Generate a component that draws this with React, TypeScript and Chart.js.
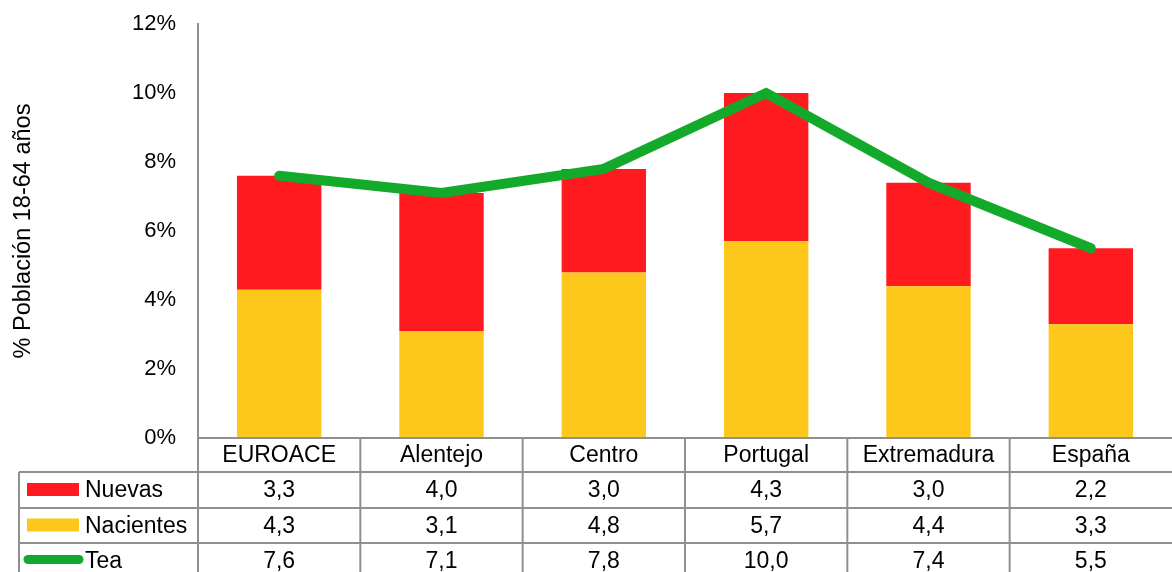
import React, { useEffect, useRef } from "react";
import { Chart, registerables } from "chart.js";

Chart.register(...registerables);

const categories = ["EUROACE", "Alentejo", "Centro", "Portugal", "Extremadura", "España"];
const nuevas = [3.3, 4.0, 3.0, 4.3, 3.0, 2.2];
const nacientes = [4.3, 3.1, 4.8, 5.7, 4.4, 3.3];
const tea = [7.6, 7.1, 7.8, 10.0, 7.4, 5.5];
const yTicks = [0, 2, 4, 6, 8, 10, 12];

const RED = "#FF1A1F";
const YELLOW = "#FDC81B";
const GREEN = "#13AA2B";
const GRIDC = "#8f8f8f";
const FONT = "'Liberation Sans', Arial, sans-serif";

const fmt = (v: number) => v.toFixed(1).replace(".", ",");

const tablePlugin = {
  id: "dataTable",
  afterDraw(chart: any) {
    const ctx = chart.ctx as CanvasRenderingContext2D;
    const x = chart.scales.x;
    const area = chart.chartArea;
    const left = area.left;
    const right = area.right;
    const n = categories.length;
    const step = (right - left) / n;
    const top = area.bottom;
    const rowH = [34, 36, 35, 35];
    const rowsY = [top];
    for (let i = 0; i < rowH.length; i++) rowsY.push(rowsY[i] + rowH[i]);
    const tableLeft = 19;
    const bottom = chart.height;

    ctx.save();
    ctx.strokeStyle = GRIDC;
    ctx.lineWidth = 2;
    ctx.beginPath();
    ctx.moveTo(left, rowsY[0]);
    ctx.lineTo(right, rowsY[0]);
    for (let r = 1; r <= 3; r++) {
      ctx.moveTo(tableLeft, rowsY[r]);
      ctx.lineTo(right, rowsY[r]);
    }
    for (let i = 0; i < n; i++) {
      const xx = left + i * step;
      ctx.moveTo(xx, rowsY[0]);
      ctx.lineTo(xx, bottom);
    }
    ctx.moveTo(tableLeft, rowsY[1]);
    ctx.lineTo(tableLeft, bottom);
    ctx.stroke();

    ctx.fillStyle = "#000";
    ctx.font = `23px ${FONT}`;
    ctx.textBaseline = "middle";
    ctx.textAlign = "center";
    const rows = [nuevas, nacientes, tea];
    for (let i = 0; i < n; i++) {
      const cx = x.getPixelForValue(i);
      ctx.fillText(categories[i], cx, (rowsY[0] + rowsY[1]) / 2 + 1);
      for (let r = 0; r < 3; r++) {
        ctx.fillText(fmt(rows[r][i]), cx, (rowsY[r + 1] + rowsY[r + 2]) / 2 + 1);
      }
    }
    const labels = ["Nuevas", "Nacientes", "Tea"];
    ctx.textAlign = "left";
    for (let r = 0; r < 3; r++) {
      const cy = (rowsY[r + 1] + rowsY[r + 2]) / 2;
      if (r < 2) {
        ctx.fillStyle = r === 0 ? RED : YELLOW;
        ctx.fillRect(27, cy - 7, 52, 13);
      } else {
        ctx.strokeStyle = GREEN;
        ctx.lineWidth = 9;
        ctx.lineCap = "round";
        ctx.beginPath();
        ctx.moveTo(28, cy - 1);
        ctx.lineTo(79, cy - 1);
        ctx.stroke();
      }
      ctx.fillStyle = "#000";
      ctx.fillText(labels[r], 85, cy + 1);
    }
    ctx.restore();
  },
};

export default function App() {
  const ref = useRef<HTMLCanvasElement | null>(null);
  useEffect(() => {
    if (!ref.current) return;
    const chart = new Chart(ref.current, {
      type: "bar",
      data: {
        labels: categories,
        datasets: [
          {
            label: "Nacientes",
            data: nacientes,
            backgroundColor: YELLOW,
            order: 1,
            stack: "s",
          },
          {
            label: "Nuevas",
            data: nuevas,
            backgroundColor: RED,
            order: 1,
            stack: "s",
          },
          {
            type: "line",
            label: "Tea",
            data: tea,
            borderColor: GREEN,
            backgroundColor: GREEN,
            borderWidth: 10,
            borderCapStyle: "round",
            borderJoinStyle: "miter",
            pointRadius: 0,
            order: 0,
            stack: "line",
          } as any,
        ],
      },
      options: {
        responsive: false,
        animation: false,
        devicePixelRatio: 1,
        layout: { padding: { top: 24, bottom: 134, left: 0, right: 0 } },
        datasets: { bar: { barPercentage: 0.52, categoryPercentage: 1 } },
        plugins: { legend: { display: false }, tooltip: { enabled: false } },
        scales: {
          x: {
            display: false,
            stacked: true,
          },
          y: {
            stacked: true,
            min: 0,
            max: 12,
            afterFit: (s: any) => {
              s.width = 198;
            },
            afterBuildTicks: (s: any) => {
              s.ticks = yTicks.map((v) => ({ value: v }));
            },
            ticks: {
              padding: 0,
              color: "#000",
              font: { family: FONT, size: 22 },
              callback: (v: any) => `${v}%`,
            },
            grid: { display: false, drawTicks: true, tickLength: 22 },
            border: { display: true, color: GRIDC, width: 2 },
            title: {
              display: true,
              text: "% Población 18-64 años",
              color: "#000",
              font: { family: FONT, size: 23.5 },
              padding: { top: 9, bottom: 0 },
            },
          },
        },
      },
      plugins: [tablePlugin],
    });
    return () => chart.destroy();
  }, []);
  return (
    <div style={{ position: "fixed", left: 0, top: 0, width: 1172, height: 572, background: "#fff" }}>
      <canvas ref={ref} width={1172} height={572} style={{ width: 1172, height: 572, display: "block" }} />
    </div>
  );
}
